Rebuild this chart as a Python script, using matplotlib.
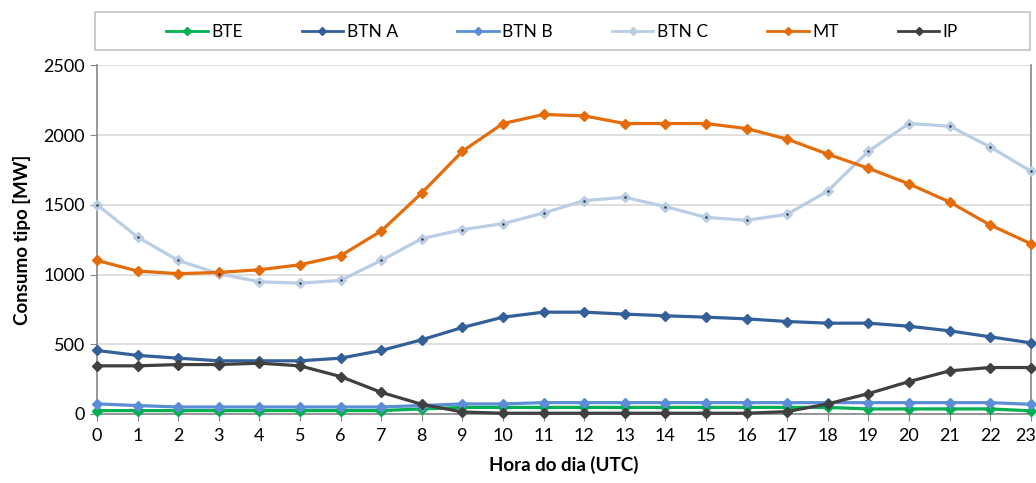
import numpy as np
import matplotlib.pyplot as plt
import matplotlib.transforms as mtransforms
from matplotlib.lines import Line2D
from matplotlib.patches import Rectangle

plt.rcParams['font.family'] = ['Lato', 'DejaVu Sans']

hours = list(range(24))

bte = [24, 24, 24, 24, 24, 24, 24, 24, 36, 47, 47, 47,
       47, 47, 47, 47, 47, 47, 47, 36, 36, 36, 36, 22]
btn_a = [455, 420, 400, 381, 381, 381, 400, 455, 532, 620, 694, 730,
         730, 716, 704, 694, 682, 663, 651, 651, 629, 596, 553, 510]
btn_b = [72, 60, 50, 50, 50, 50, 50, 50, 60, 72, 72, 81,
         81, 81, 81, 81, 81, 81, 81, 81, 81, 81, 81, 69]
btn_c = [1501, 1269, 1101, 1006, 948, 938, 958, 1101, 1257, 1322, 1365, 1441,
         1530, 1554, 1487, 1410, 1389, 1432, 1599, 1884, 2083, 2064, 1915, 1741]
mt = [1101, 1025, 1006, 1015, 1034, 1070, 1135, 1312, 1585, 1884, 2083, 2148,
      2138, 2083, 2083, 2083, 2047, 1971, 1863, 1762, 1650, 1520, 1355, 1221]
ip = [345, 345, 354, 354, 364, 345, 268, 155, 69, 14, 5, 5,
      5, 5, 5, 5, 5, 17, 72, 146, 232, 309, 333, 333]

series = [("BTE", bte, "#00B050"),
          ("BTN A", btn_a, "#34609A"),
          ("BTN B", btn_b, "#5B8ED6"),
          ("BTN C", btn_c, "#B9CDE5"),
          ("MT", mt, "#E46C0A"),
          ("IP", ip, "#404040")]

fig = plt.figure(figsize=(10.36, 4.83), dpi=100)
ax = fig.add_axes([0.0936, 0.143, 0.9014, 0.7216])

handles = []
for name, vals, col in series:
    ax.plot(hours, vals, color=col, lw=2.3, marker='D', markersize=5.5,
            markeredgecolor=col, markerfacecolor=col, clip_on=False, zorder=3)
    if name == "BTN C":
        ax.plot(hours, vals, ls='none', marker='.', markersize=1.5,
                color='#333333', clip_on=False, zorder=4)
    handles.append(Line2D([], [], color=col, lw=2, marker='D', markersize=4.5,
                          markeredgecolor=col, markerfacecolor=col))

ax.set_xlim(0, 23)
ax.set_ylim(0, 2500)
ax.set_xticks(hours)
ax.set_yticks(np.arange(0, 2501, 500))
ax.tick_params(axis='both', labelsize=13, color='#868686', length=5,
               direction='out')
ax.tick_params(axis='x', pad=5)
ax.yaxis.grid(True, color='#D9D9D9', lw=1.2)
ax.set_axisbelow(True)
for s in ['left', 'right', 'bottom']:
    ax.spines[s].set_color('#868686')
    ax.spines[s].set_linewidth(1.2)
ax.spines['top'].set_visible(False)

# keep the last hour label inside the figure
last = ax.get_xticklabels()[-1]
last.set_transform(last.get_transform() +
                   mtransforms.ScaledTranslation(-5 / 100, 0, fig.dpi_scale_trans))

ax.set_xlabel("Hora do dia (UTC)", fontsize=13.5, fontweight='bold', labelpad=9)
ax.set_ylabel("Consumo tipo [MW]", fontsize=13.5, fontweight='bold', labelpad=9)

# legend box across the top
fig.patches.append(Rectangle((0.0917, 0.8965), 0.9023, 0.0787,
                             transform=fig.transFigure, facecolor='white',
                             edgecolor='#C8C8C8', lw=1.3))
fig.legend(handles, [s[0] for s in series], ncol=6, loc='center',
           bbox_to_anchor=(0.5425, 0.934), frameon=False, fontsize=12.5,
           handlelength=2.4, handletextpad=0.2, columnspacing=3.4)

fig.savefig("out.png", dpi=100)
